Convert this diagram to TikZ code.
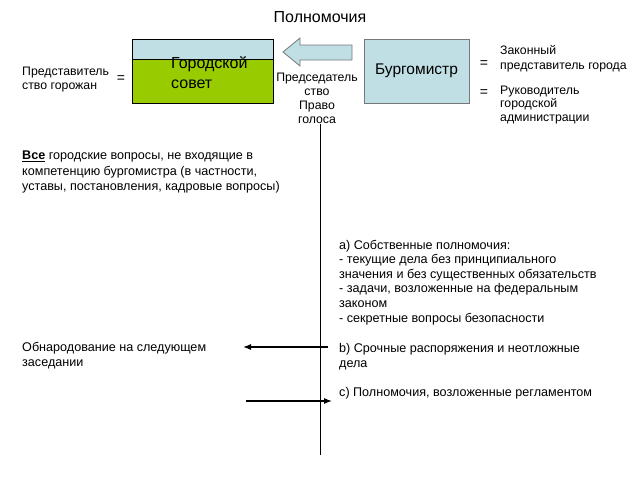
\documentclass[tikz,border=0pt]{standalone}
\usepackage{fontspec}
\setmainfont{Liberation Sans}
\usetikzlibrary{arrows.meta}
\definecolor{lblue}{RGB}{192,223,228}
\definecolor{lgreen}{RGB}{153,204,0}
\definecolor{bgray}{RGB}{120,120,120}
\begin{document}
\begin{tikzpicture}[x=1pt,y=-1pt,
  txt/.style={inner sep=0pt,anchor=base west,align=left,font=\fontsize{12.6}{14.8}\selectfont},
  ctxt/.style={inner sep=0pt,anchor=base,align=center,font=\fontsize{12.3}{13.7}\selectfont},
  eq/.style={inner sep=0pt,anchor=base,font=\fontsize{14}{14}\selectfont},
  thinarrow/.style={-{Latex[length=8pt,width=6pt]},line width=1.1pt}]
\useasboundingbox (0,0) rectangle (638,479);
% title
\node[inner sep=0pt,anchor=base,font=\fontsize{16}{18}\selectfont] (title) at (320,22) {Полномочия};
% city council box
\fill[lblue] (132,39) rectangle (273,59);
\fill[lgreen] (132,59) rectangle (273,103);
\draw[line width=0.9pt] (132,39) rectangle (273,103);
\draw[line width=0.7pt] (132,59) -- (273,59);
\node[inner sep=0pt,anchor=base west,align=left,font=\fontsize{16}{20}\selectfont] (counciltext) at (171,88) {Городской\\совет};
% block arrow
\draw[fill=lblue,draw=bgray,line width=0.8pt] (283,52) -- (300,38) -- (300,45) -- (352,45) -- (352,60) -- (300,60) -- (300,66) -- cycle;
% mayor box
\node[draw=bgray,fill=lblue,line width=0.8pt,minimum width=105pt,minimum height=64pt,inner sep=0pt,font=\fontsize{15.5}{17}\selectfont] (mayor) at (416.5,71) {Бургомистр};
% left texts
\node[txt,font=\fontsize{12.3}{14}\selectfont] (repr) at (22,89) {Представитель\\ство горожан};
\node[eq] (eq1) at (121,82) {=};
% chairmanship
\node[ctxt] (chair) at (317,123) {Председатель\\ство\\Право\\голоса};
% right of mayor
\node[eq] (eq2) at (484,67) {=};
\node[eq] (eq3) at (484,96) {=};
\node[txt,font=\fontsize{12.3}{15}\selectfont] (legal) at (500,69) {Законный\\представитель города};
\node[txt,font=\fontsize{12.3}{13.5}\selectfont] (head) at (500,121) {Руководитель\\городской\\администрации};
% vertical line
\coordinate (vtop) at (320,124);
\coordinate (vbot) at (320,455);
\draw[line width=0.9pt] (vtop) -- (vbot);
% all questions
\node[txt,font=\fontsize{12.6}{15.3}\selectfont] (all) at (22,190.5) {\underline{\textbf{Все}} городские вопросы, не входящие в\\компетенцию бургомистра (в частности,\\уставы, постановления, кадровые вопросы)};
% right block
\node[txt,font=\fontsize{12.6}{14.6}\selectfont] (own) at (339,322) {a) Собственные полномочия:\\- текущие дела без принципиального\\значения и без существенных обязательств\\- задачи, возложенные на федеральным\\законом\\- секретные вопросы безопасности};
\node[txt] (urgent) at (339,367) {b) Срочные распоряжения и неотложные\\дела};
\node[txt] (regl) at (339,396) {c) Полномочия, возложенные регламентом};
\node[txt] (publ) at (22,366) {Обнародование на следующем\\заседании};
% arrows
\coordinate (la1) at (328,347);
\coordinate (la2) at (243,347);
\coordinate (ra1) at (246,401);
\coordinate (ra2) at (332,401);
\draw[thinarrow] (la1) -- (la2);
\draw[thinarrow] (ra1) -- (ra2);
\end{tikzpicture}
\end{document}
